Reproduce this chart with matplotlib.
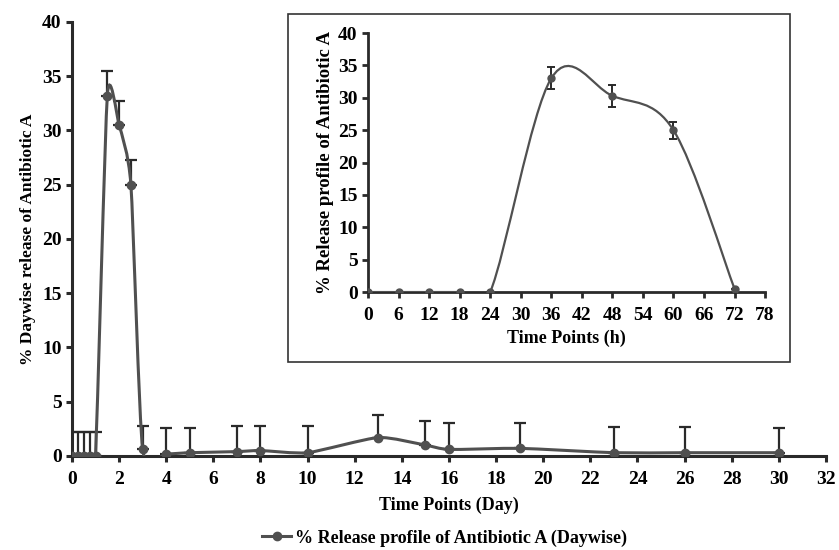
import matplotlib
matplotlib.use("Agg")
import matplotlib.pyplot as plt
import numpy as np
from matplotlib.path import Path
from matplotlib.patches import PathPatch, Rectangle

# main chart: daywise release
day = [0, 0.25, 0.5, 0.75, 1, 1.5, 2, 2.5, 3, 4, 5, 7, 8, 10, 13, 15, 16, 19, 23, 26, 30]
day_val = [0, 0, 0, 0, 0, 33.2, 30.5, 25.0, 0.6, 0.2, 0.3, 0.4, 0.5, 0.3, 1.7, 1.0, 0.6, 0.7, 0.3, 0.3, 0.3]
day_err = [2.2, 2.2, 2.2, 2.2, 2.2, 2.3, 2.2, 2.3, 2.2, 2.4, 2.3, 2.4, 2.3, 2.5, 2.1, 2.2, 2.4, 2.3, 2.4, 2.4, 2.3]

# inset: hourly release
hour = [0, 6, 12, 18, 24, 36, 48, 60, 72]
hour_val = [0, 0, 0, 0, 0, 33.0, 30.3, 25.0, 0.5]
hour_err = [0, 0, 0, 0, 0, 1.7, 1.7, 1.3, 0]

plt.rcParams['font.family'] = ['Liberation Serif', 'DejaVu Serif']
plt.rcParams['font.weight'] = 'bold'
plt.rcParams['font.size'] = 13

LINE = '#505050'
AX = '#2a2a2a'


def smooth_path(ax, x, y, t=1 / 6.0, **kw):
    # Excel-style smoothed line drawn as cubic bezier segments
    pts = np.column_stack([x, y]).astype(float)
    n = len(pts)
    verts = [pts[0]]
    codes = [Path.MOVETO]
    for i in range(n - 1):
        p0 = pts[i - 1] if i > 0 else pts[i]
        p1 = pts[i]
        p2 = pts[i + 1]
        p3 = pts[i + 2] if i + 2 < n else pts[i + 1]
        c1 = p1 + (p2 - p0) * t
        c2 = p2 - (p3 - p1) * t
        verts += [c1, c2, p2]
        codes += [Path.CURVE4] * 3
    ax.add_patch(PathPatch(Path(verts, codes), fill=False, **kw))


def style_axes(ax, lw):
    for s in ['top', 'right']:
        ax.spines[s].set_visible(False)
    for s in ['left', 'bottom']:
        ax.spines[s].set_linewidth(lw)
        ax.spines[s].set_color(AX)
    ax.tick_params(direction='out', width=lw, color=AX, length=4, labelsize=14)
    ax.tick_params(axis='x', pad=7)


fig = plt.figure(figsize=(8.39, 5.5), dpi=100)
ax = fig.add_axes([0.0858, 0.171, 0.8987, 0.789])
style_axes(ax, 2.2)

smooth_path(ax, day, day_val, t=0.1, color=LINE, lw=2.2, zorder=3)
ax.errorbar(day, day_val, yerr=[np.zeros(len(day)), day_err], fmt='none',
            ecolor=AX, elinewidth=1.6, capsize=4, capthick=1.6, zorder=2)
ax.plot(day, day_val, 'o', color=LINE, ms=6, zorder=4)
ax.plot([], [], '-o', color=LINE, lw=2.2, ms=6,
        label='% Release profile of Antibiotic A (Daywise)')

ax.set_xlim(0, 32)
ax.set_ylim(0, 40)
ax.set_xticks(range(0, 33, 2))
ax.set_yticks(range(0, 41, 5))
ax.set_xlabel('Time Points (Day)', fontweight='bold', labelpad=6)
ax.set_ylabel('% Daywise release of Antibiotic A', fontweight='bold', labelpad=4,
              fontsize=12.5)
ax.legend(loc='center', bbox_to_anchor=(0.494, -0.189), frameon=False,
          handlelength=1.6, handletextpad=0.2, fontsize=13)

# inset frame
fig.patches.append(Rectangle((288 / 839, 1 - 362 / 550), (790 - 288) / 839, (362 - 14) / 550,
                             transform=fig.transFigure, fill=True, facecolor='white',
                             edgecolor='#333333', lw=1.2, zorder=5))

ins = fig.add_axes([0.4386, 0.469, 0.4733, 0.471], zorder=6)
ins.patch.set_alpha(0)
style_axes(ins, 2.0)
smooth_path(ins, hour, hour_val, color=LINE, lw=1.6, zorder=3)
ins.errorbar(hour, hour_val, yerr=hour_err, fmt='none', ecolor=AX,
             elinewidth=1.4, capsize=3, capthick=1.4, zorder=2)
ins.plot(hour, hour_val, 'o', color=LINE, ms=5, zorder=4)
ins.set_xlim(0, 78)
ins.set_ylim(0, 40)
ins.set_xticks(range(0, 79, 6))
ins.set_yticks(range(0, 41, 5))
ins.set_xlabel('Time Points (h)', fontweight='bold', labelpad=4)
ins.set_ylabel('% Release profile of Antibiotic A', fontweight='bold', labelpad=3,
               fontsize=13.5)

fig.savefig('out.png', dpi=100)
